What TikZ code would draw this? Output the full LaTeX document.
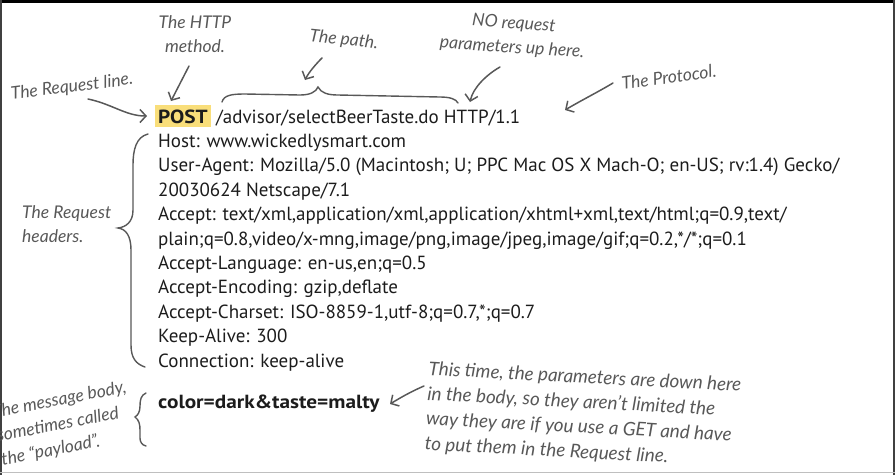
\documentclass[tikz,border=0pt]{standalone}
\usepackage{fontspec}
\setmainfont{PT Sans}
\newfontfamily\handfont{Lato}
\usetikzlibrary{arrows.meta}
\definecolor{ink}{RGB}{28,28,28}
\definecolor{pen}{RGB}{88,88,88}
\definecolor{hilite}{RGB}{249,222,122}
\tikzset{
  hdr/.style={anchor=base west, inner sep=0pt, text=ink, font=\fontsize{19}{22}\selectfont},
  hdrb/.style={hdr, font=\bfseries\addfontfeatures{FakeStretch=1.12}\fontsize{19}{22}\selectfont},
  % handwritten remarks
  note/.style={text=pen, align=center, inner sep=0pt, font=\handfont\itshape\fontsize{17.5}{24}\selectfont},
  ar/.style={-{Straight Barb[length=6pt,width=13pt]}, line width=1.5pt, draw=pen, line cap=round},
  brc/.style={draw=pen, line width=1.4pt, line cap=round}
}

\begin{document}
\begin{tikzpicture}[x=1pt,y=-1pt]
    \useasboundingbox (0,0) rectangle (895,475);
    % screen frame
    \fill[black] (0,0) rectangle (895,3);
    \fill[black!75] (0,0) rectangle (2,475);
    \fill[black!75] (893,0) rectangle (895,475);
    \draw[black!25] (0,472.5) -- (895,472.5);

    % request line
    \node[hdrb, fill=hilite, inner xsep=3.5pt, inner ysep=4pt] (method) at (154.5,123) {POST};
    \node[hdr] (reqpath) at (216,123) {/advisor/selectBeerTaste.do HTTP/1.1};

    % headers
    \foreach \txt [count=\i] in {{Host: www.wickedlysmart.com},
        {User-Agent: Mozilla/5.0 (Macintosh; U; PPC Mac OS X Mach-O; en-US; rv:1.4) Gecko/},
        {20030624 Netscape/7.1},
        {Accept: text/xml,application/xml,application/xhtml+xml,text/html;q=0.9,text/},
        {plain;q=0.8,video/x-mng,image/png,image/jpeg,image/gif;q=0.2,*/*;q=0.1},
        {Accept-Language: en-us,en;q=0.5},
        {Accept-Encoding: gzip,deflate},
        {Accept-Charset: ISO-8859-1,utf-8;q=0.7,*;q=0.7},
        {Keep-Alive: 300},
        {Connection: keep-alive}}
      \node[hdr] (h\i) at (158,{123+24.4*\i}) {\txt};

    % body
    \node[hdrb] (body) at (158,408) {color=dark\&taste=malty};

    % remarks
    \node[note] (methodlbl) at (195,34) {The HTTP\\method.};
    \node[note, rotate=-6] (pathlbl) at (344,40) {The path.};
    \node[note, rotate=-4] (nolbl) at (513,36) {NO request\\parameters up here.};
    \node[note, rotate=8] (protolbl) at (669,77) {The Protocol.};
    \node[note, rotate=7] (linelbl) at (72,87) {The Request line.};
    \node[note, align=left, anchor=west] (hdrlbl) at (22,224) {The Request\\headers.};
    \node[note, align=left, rotate=11] (bodylbl) at (64,424) {The message body,\\sometimes called\\the “payload”.};
    \node[note, align=left, rotate=-3, anchor=north west, font=\handfont\itshape\fontsize{18.8}{25}\selectfont] (paramlbl) at (429,361)
      {This time, the parameters are down here\\in the body, so they aren’t limited the\\way they are if you use a GET and have\\to put them in the Request line.};

    % arrow ends
    \coordinate (m0) at (189,66);   \coordinate (m1) at (171,101);
    \coordinate (r0) at (88,99);    \coordinate (r1) at (147,116);
    \coordinate (p0) at (322,58);   \coordinate (p1) at (305,80);
    \coordinate (n0) at (500,67);   \coordinate (n1) at (470,102);
    \coordinate (v0) at (613,83);   \coordinate (v1) at (565,110);
    \coordinate (b0) at (424,386);  \coordinate (b1) at (390,404);

    \draw[ar] (m0) -- (m1);
    \draw[ar] (r0) .. controls (112,104) and (126,116) .. (r1);
    \draw[ar] (p0) .. controls (316,64) and (309,72) .. (p1);
    \draw[ar] (n0) .. controls (486,75) and (473,88) .. (n1);
    \draw[ar] (v0) .. controls (598,92) and (582,100) .. (v1);
    \draw[ar] (b0) .. controls (410,392) and (400,398) .. (b1);

    % braces
    \draw[brc] (222,102) .. controls (224,95) and (232,94) .. (245,94) -- (300,95)
      .. controls (310,95) and (316,92) .. (318,87) .. controls (321,93) and (328,95) .. (338,95)
      -- (440,97) .. controls (450,97) and (456,99) .. (458,103);
    \draw[brc] (148,134) .. controls (136,137) and (133,150) .. (133,165) -- (133,210)
      .. controls (133,222) and (126,227) .. (118,228) .. controls (126,229) and (131,236) .. (131,250)
      -- (131,345) .. controls (131,358) and (136,364) .. (145,367);
    \draw[brc] (146,393) .. controls (141,395) and (140,400) .. (140,406)
      .. controls (140,412) and (138,415) .. (135,417) .. controls (139,420) and (140,424) .. (140,430)
      -- (140,438) .. controls (140,442) and (142,445) .. (146,446);
  \end{tikzpicture}
\end{document}
